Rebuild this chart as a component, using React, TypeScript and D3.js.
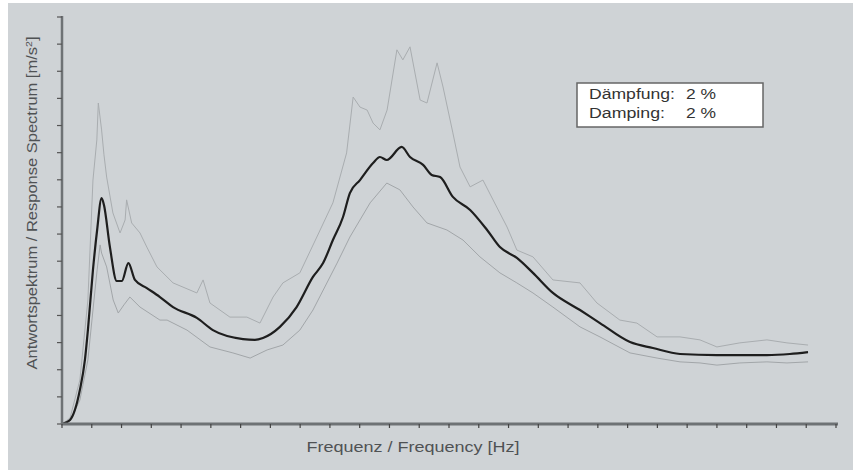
import React from 'react'
import * as d3 from 'd3'

// frequency [Hz] and response [m/s²]
const meanFreq = [0, 0.27, 0.6, 0.77, 0.87, 1.04, 1.18, 1.33, 1.41, 1.61, 1.84, 2.01, 2.23, 2.45, 2.85, 3.29, 3.73, 4.53, 5.07, 6.08, 6.48, 6.75, 7.32, 7.88, 8.43, 8.77, 9.1, 9.44, 9.67, 10.01, 10.45, 10.68, 10.91, 11.41, 11.69, 12.13, 12.42, 12.7, 13.13, 13.71, 14.28, 14.71, 15.28, 15.82, 16.49, 17.4, 18.07, 19.08, 19.85, 20.76, 22.0, 23.68, 24.45, 25.06]
const meanValue = [0, 0.15, 1.25, 2.36, 3.46, 5.68, 7.15, 8.33, 8.07, 6.52, 5.27, 5.27, 5.93, 5.31, 5.01, 4.68, 4.31, 3.91, 3.46, 3.13, 3.1, 3.17, 3.58, 4.31, 5.42, 5.93, 6.78, 7.63, 8.51, 8.99, 9.62, 9.84, 9.73, 10.21, 9.84, 9.55, 9.18, 9.1, 8.37, 7.89, 7.15, 6.52, 6.12, 5.57, 4.83, 4.2, 3.72, 3.02, 2.8, 2.58, 2.54, 2.54, 2.58, 2.65]

const upperFreq = [0, 0.27, 0.6, 0.87, 1.04, 1.17, 1.22, 1.33, 1.41, 1.5, 1.71, 1.95, 2.12, 2.17, 2.34, 2.62, 2.85, 3.19, 3.73, 4.53, 4.74, 4.97, 5.64, 6.21, 6.65, 7.09, 7.42, 7.99, 8.56, 9.1, 9.56, 9.78, 10.01, 10.25, 10.45, 10.68, 10.92, 11.25, 11.45, 11.69, 12.03, 12.26, 12.6, 12.8, 13.13, 13.37, 13.71, 14.14, 14.48, 14.95, 15.28, 15.82, 16.49, 17.4, 17.97, 18.74, 19.31, 19.99, 20.76, 21.43, 22.0, 22.77, 23.68, 24.35, 25.06]
const upperValue = [0, 0.22, 1.62, 4.57, 8.99, 10.47, 11.83, 10.84, 9.92, 9.1, 7.78, 7.04, 7.52, 8.26, 7.41, 7.04, 6.52, 5.79, 5.2, 4.83, 5.31, 4.46, 3.94, 3.94, 3.72, 4.68, 5.2, 5.57, 6.89, 8.15, 9.99, 12.05, 11.68, 11.57, 11.09, 10.84, 11.57, 13.79, 13.42, 13.9, 11.94, 11.83, 13.31, 12.42, 10.73, 9.47, 8.74, 8.99, 8.26, 7.26, 6.41, 6.16, 5.31, 5.2, 4.46, 3.83, 3.72, 3.21, 3.21, 3.1, 2.84, 2.99, 3.1, 2.99, 2.91]

const lowerFreq = [0, 0.27, 0.6, 0.87, 1.04, 1.18, 1.28, 1.33, 1.5, 1.72, 1.89, 2.08, 2.28, 2.62, 3.29, 3.53, 4.2, 4.97, 5.74, 6.32, 6.89, 7.42, 7.99, 8.43, 9.24, 9.67, 10.35, 10.91, 11.35, 11.79, 12.26, 12.93, 13.47, 14.04, 14.71, 15.28, 15.82, 16.49, 17.4, 18.07, 19.08, 19.99, 20.76, 21.43, 22.0, 22.77, 23.68, 24.35, 25.06]
const lowerValue = [0, 0.11, 0.88, 2.36, 4.2, 5.68, 6.6, 6.3, 5.79, 4.57, 4.09, 4.39, 4.68, 4.31, 3.83, 3.83, 3.46, 2.84, 2.62, 2.43, 2.73, 2.91, 3.46, 4.2, 5.93, 6.89, 8.15, 8.88, 8.63, 8.0, 7.41, 7.15, 6.78, 6.16, 5.57, 5.2, 4.83, 4.31, 3.58, 3.21, 2.62, 2.43, 2.29, 2.25, 2.17, 2.25, 2.29, 2.25, 2.29]

const xTicks = d3.range(0, 27)
const yTicks = d3.range(0, 16)

const legendLines = [
    { label: 'Dämpfung:', value: '2 %', labelWidth: 86 },
    { label: 'Damping:', value: '2 %', labelWidth: 76 },
]

const svgStyle: React.CSSProperties = {
    position: 'absolute',
    left: 0,
    top: 0,
    background: 'white',
}

const axisColor = '#6e7275'
const labelColor = '#4f5254'

function zip(xs: number[], ys: number[]): [number, number][] {
    return xs.map((x, i) => [x, ys[i]])
}

export default function App() {
    const x = d3.scaleLinear().domain([0, 26]).range([62, 836])
    const y = d3.scaleLinear().domain([0, 15]).range([424, 17])

    const line = d3.line<[number, number]>()
        .x(d => x(d[0]))
        .y(d => y(d[1]))

    // the mean curve is drawn smoother than the two envelopes
    const smoothLine = d3.line<[number, number]>()
        .x(d => x(d[0]))
        .y(d => y(d[1]))
        .curve(d3.curveMonotoneX)

    const meanPath = smoothLine(zip(meanFreq, meanValue)) || ''
    const upperPath = line(zip(upperFreq, upperValue)) || ''
    const lowerPath = line(zip(lowerFreq, lowerValue)) || ''

    return (
        <svg width={857} height={470} style={svgStyle} fontFamily="'Liberation Sans', Arial, sans-serif">
            <rect x={8} y={3} width={845} height={467} fill="#cfd3d6" />

            {/* envelope curves */}
            <path d={upperPath} fill="none" stroke="#a9adb0" strokeWidth={1} />
            <path d={lowerPath} fill="none" stroke="#a2a6a9" strokeWidth={1} />
            <path d={meanPath} fill="none" stroke="#1e1e1e" strokeWidth={2.2} strokeLinejoin="round" />

            {/* y axis */}
            <line x1={x(0)} x2={x(0)} y1={y(15) - 1} y2={y(0)} stroke={axisColor} strokeWidth={2.5} />
            {yTicks.map(t => (
                <line key={'y' + t} x1={x(0) - 5} x2={x(0)} y1={y(t)} y2={y(t)} stroke="#555" strokeWidth={1.2} />
            ))}

            {/* x axis */}
            <line x1={x(0) - 1} x2={x(26) + 2} y1={y(0)} y2={y(0)} stroke={axisColor} strokeWidth={3} />
            {xTicks.map(t => (
                <line key={'x' + t} x1={x(t)} x2={x(t)} y1={y(0)} y2={y(0) + 4} stroke="#444" strokeWidth={1.2} />
            ))}

            <text x={413} y={452} textAnchor="middle" fontSize={14} fill={labelColor}
                textLength={213} lengthAdjust="spacingAndGlyphs">Frequenz / Frequency [Hz]</text>

            <text transform="translate(37,203) rotate(-90)" textAnchor="middle" fontSize={14} fill={labelColor}
                textLength={333} lengthAdjust="spacingAndGlyphs">
                Antwortspektrum / Response Spectrum [m/s<tspan dy={-5} fontSize={9}>2</tspan><tspan dy={5}>]</tspan>
            </text>

            {/* damping box */}
            <rect x={577} y={83} width={186} height={44} fill="white" stroke="#666" strokeWidth={1.5} />
            {legendLines.map((l, i) => (
                <g key={l.label} fontSize={14} fill="#333">
                    <text x={589} y={99 + i * 18.5} textLength={l.labelWidth} lengthAdjust="spacingAndGlyphs">{l.label}</text>
                    <text x={686} y={99 + i * 18.5} textLength={30} lengthAdjust="spacingAndGlyphs">{l.value}</text>
                </g>
            ))}
        </svg>
    )
}
